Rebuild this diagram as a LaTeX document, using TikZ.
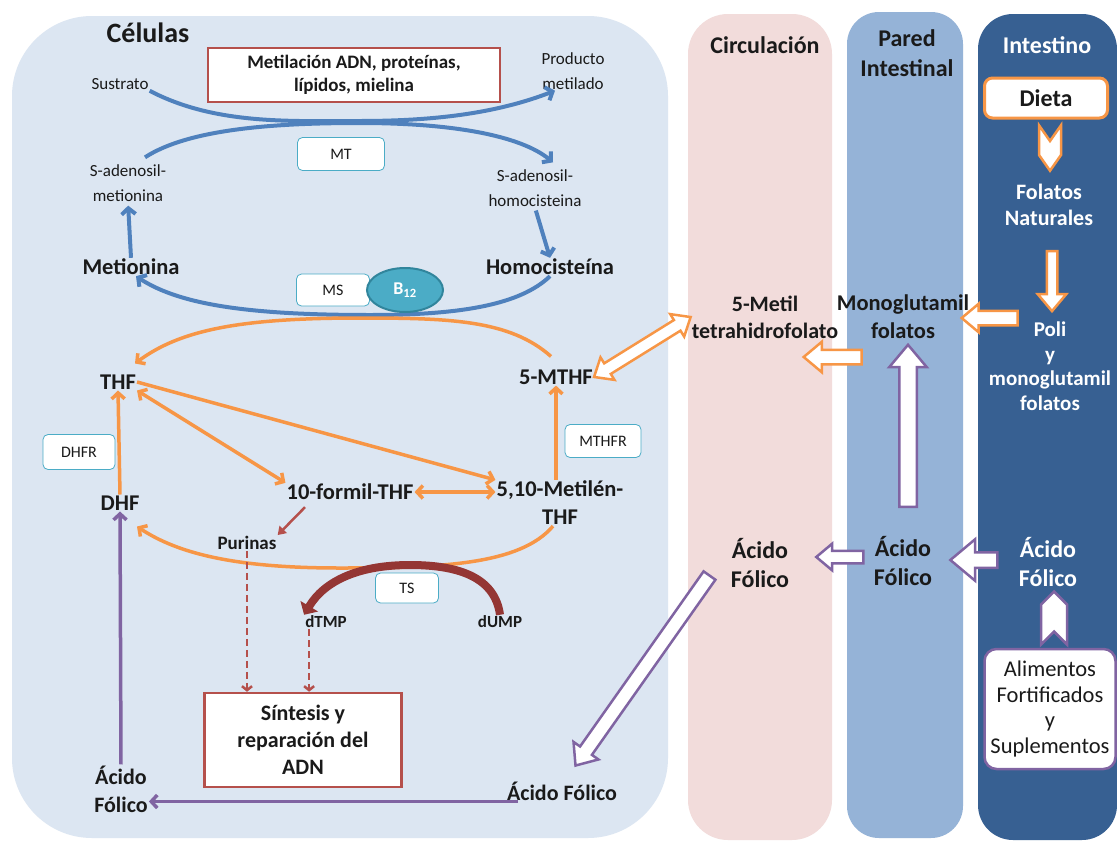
\documentclass[tikz,border=0pt]{standalone}
\usepackage{fontspec}
\setmainfont{Carlito}
\usetikzlibrary{arrows.meta,shapes.arrows,shapes.symbols,shapes.geometric,calc}

\definecolor{cellbg}{HTML}{DCE6F2}
\definecolor{circbg}{HTML}{F2DCDB}
\definecolor{paredbg}{HTML}{95B3D7}
\definecolor{intbg}{HTML}{376092}
\definecolor{metblue}{HTML}{4F81BD}
\definecolor{folorange}{HTML}{F79646}
\definecolor{acpurple}{HTML}{8064A2}
\definecolor{boxred}{HTML}{B5504C}
\definecolor{tsred}{HTML}{943634}
\definecolor{enzteal}{HTML}{4BACC6}
\definecolor{b12dark}{HTML}{31859C}
\definecolor{ink}{HTML}{1A1A1A}

\newcommand{\fatarrow}[3][]{%
  \path let \p1=($(#3)-(#2)$), \n1={veclen(\x1,\y1)} in
    (#2) -- node[fat, #1, minimum height=\n1] {} (#3);}

\begin{document}
\begin{tikzpicture}[x=1pt, y=-1pt,
    lbl/.style={text=ink, align=center, inner sep=1pt, font=\fontsize{17}{25}\selectfont},
    metab/.style={text=ink, align=center, inner sep=1pt, font=\bfseries\fontsize{22.5}{28}\selectfont},
    enz/.style={draw=enzteal, fill=white, rounded corners=5pt, line width=0.8pt, inner sep=0pt, text=ink, font=\fontsize{16}{18}\selectfont},
    resbox/.style={draw=boxred, fill=white, line width=2.5pt, align=center, inner sep=0pt, text=ink},
    zone/.style={text=ink, align=center, font=\bfseries\fontsize{24}{30}\selectfont},
    gut/.style={text=white, align=center, inner sep=1pt, font=\bfseries\fontsize{21}{24.5}\selectfont},
    small/.style={metab, font=\bfseries\fontsize{17}{20}\selectfont},
    acido/.style={metab, font=\bfseries\fontsize{24}{29}\selectfont},
    chevron/.style={signal, fill=white, line width=2.5pt, inner sep=0pt},
    blu/.style={draw=metblue, line width=4pt, -{Straight Barb[length=6pt,width=14pt]}},
    ora/.style={draw=folorange, line width=3.5pt, -{Straight Barb[length=6pt,width=13pt]}},
    oraboth/.style={ora, {Straight Barb[length=6pt,width=13pt]}-{Straight Barb[length=6pt,width=13pt]}},
    pur/.style={draw=acpurple, line width=3.5pt, -{Straight Barb[length=6pt,width=13pt]}},
    redash/.style={draw=boxred, line width=2.5pt, dash pattern=on 7pt off 4pt, -{Straight Barb[length=4pt,width=10pt]}},
    fat/.style={single arrow, fill=white, line width=2.5pt, inner sep=6pt, single arrow head extend=7pt, single arrow tip angle=80, sloped, allow upside down},
    fatboth/.style={double arrow, fill=white, draw=folorange, line width=2.5pt, inner sep=5pt, double arrow head extend=7pt, double arrow tip angle=80, sloped, allow upside down}]

\useasboundingbox (0,0) rectangle (1117,841);
\fill[white] (0,0) rectangle (1117,841);

\fill[cellbg, rounded corners=80pt] (12,16) rectangle (668,838);
\fill[circbg, rounded corners=40pt] (688,14) rectangle (832,840);
\fill[paredbg, rounded corners=32pt] (847,12) rectangle (963,838);
\fill[intbg, rounded corners=35pt] (978,14) rectangle (1117,840);

\node[zone, font=\bfseries\fontsize{28}{32}\selectfont] (cel) at (148,33) {Células};
\node[resbox, minimum width=292pt, minimum height=54pt, font=\bfseries\fontsize{19}{23}\selectfont] (metil) at (354,75) {Metilación ADN, proteínas,\\lípidos, mielina};
\node[lbl] (sus) at (120,84) {Sustrato};
\node[lbl] (prod) at (573,71) {Producto\\metilado};
\node[lbl] (sam) at (128,183) {S-adenosil-\\metionina};
\node[lbl] (sah) at (535,188) {S-adenosil-\\homocisteina};
\node[metab] (met) at (131,267) {Metionina};
\node[metab] (hom) at (550,267) {Homocisteína};

\draw[blu] (sus.south east) .. controls (215,125) and (290,121) .. (360,121) .. controls (440,121) and (500,112) .. ([xshift=-18pt]prod.south);
\draw[blu] ([xshift=17pt,yshift=6pt]sam.north) .. controls (190,128) and (280,123) .. (360,123) .. controls (450,123) and (520,135) .. ([xshift=18pt,yshift=6pt]sah.north);
\draw[blu, shorten >=3pt] (met.north) -- (sam.south);
\draw[blu, shorten <=3pt] (sah.south) -- (hom.north);
\draw[blu] (hom.south) .. controls (520,305) and (460,315) .. (370,315) .. controls (250,315) and (180,305) .. ([xshift=5pt]met.south);

\node[enz, minimum width=87pt, minimum height=33pt] (mt) at (341,154) {MT};
\node[enz, minimum width=73pt, minimum height=32pt] (ms) at (333,290) {MS};
\node[ellipse, draw=b12dark, fill=enzteal, line width=2pt, minimum width=76pt, minimum height=44pt, text=white, font=\bfseries\fontsize{18}{20}\selectfont] (b12) at (405,290) {B\textsubscript{12}};

\node[metab] (thf) at (118,382) {THF};
\node[metab] (mthf) at (556,377) {5-MTHF};
\node[metab] (dhf) at (120,503) {DHF};
\node[metab] (formil) at (350,492) {10-formil-THF};
\node[metab] (meth) at (560,503) {5,10-Metilén-\\THF};
\node[small, font=\bfseries\fontsize{19}{22}\selectfont] (pur) at (247,543) {Purinas};
\node[small] (dtmp) at (326,622) {dTMP};
\node[small] (dump) at (500,622) {dUMP};

\draw[ora] ([xshift=-5pt,yshift=12pt]mthf.north) .. controls (510,320) and (450,318) .. (360,318) .. controls (240,318) and (180,330) .. ([xshift=17pt,yshift=10pt]thf.north);
\draw[ora] (thf.east) -- (meth.north west);
\draw[oraboth] (thf.south east) -- (formil.north west);
\draw[oraboth] (formil.east) -- (formil.east -| meth.west);
\draw[ora] (mthf.south |- meth.north) -- (mthf.south);
\draw[ora] (dhf.north) -- (thf.south);
\draw[ora] ([xshift=-7pt]meth.south) .. controls (520,565) and (440,568) .. (340,568) .. controls (240,568) and (180,555) .. ([xshift=17pt,yshift=-15pt]dhf.south);

\node[enz, minimum width=72pt, minimum height=35pt] (dhfr) at (79,452) {DHFR};
\node[enz, minimum width=76pt, minimum height=33pt] (mthfr) at (603,441) {MTHFR};

\draw[draw=boxred, line width=2.5pt, -{Triangle[length=8pt,width=10pt]}] ([xshift=-45pt,yshift=-6pt]formil.south) -- (pur.north east);
\draw[draw=tsred, line width=8pt, -{Triangle[length=10pt,width=20pt]}] (dump.north) .. controls (495,578) and (460,565) .. (410,565) .. controls (360,565) and (325,580) .. (dtmp.north west);
\node[enz, minimum width=63pt, minimum height=30pt] (ts) at (407,588) {TS};

\node[resbox, minimum width=197pt, minimum height=94pt, font=\bfseries\fontsize{22}{27}\selectfont] (syn) at (303,740) {Síntesis y\\reparación del\\ADN};
\draw[redash] (pur.south) -- (pur.south |- syn.north);
\draw[redash] ($(dtmp.south west)+(5,0)$) -- ($(dtmp.south west |- syn.north)+(5,0)$);

\node[metab, font=\bfseries\fontsize{22}{28}\selectfont] (acl) at (121,789) {Ácido\\Fólico};
\node[metab, font=\bfseries\fontsize{22}{28}\selectfont] (acr) at (562,791) {Ácido Fólico};
\draw[pur] (acl.north) -- (dhf.south);
\draw[pur] ([xshift=12pt]acr.south west) -- (acr.south west -| acl.east);

\node[zone] (circ) at (765,45) {Circulación};
\node[zone] (pared) at (907,53) {Pared\\Intestinal};
\node[zone, text=white] (intest) at (1047,45) {Intestino};
\node[draw=folorange, fill=white, line width=3pt, rounded corners=8pt, minimum width=123pt, minimum height=40pt, text=ink, font=\bfseries\fontsize{24}{26}\selectfont] (dieta) at (1046,98) {Dieta};
\node[chevron, draw=folorange, signal to=south, signal from=north, signal pointer angle=70, minimum width=22pt, minimum height=14pt] (chevd) at (1050,148) {};
\node[gut, font=\bfseries\fontsize{22}{26}\selectfont] (folnat) at (1049,205) {Folatos\\Naturales};
\node[gut] (poli) at (1050,366) {Poli\\y\\monoglutamil\\folatos};
\node[metab] (mono) at (903,317) {Monoglutamil\\folatos};
\node[metab, font=\bfseries\fontsize{22}{27}\selectfont] (tetra) at (765,317) {5-Metil\\tetrahidrofolato};
\node[acido] (acc) at (760,563) {Ácido\\Fólico};
\node[acido] (acp) at (903,561) {Ácido\\Fólico};
\node[acido, text=white] (aci) at (1048,562) {Ácido\\Fólico};
\node[chevron, draw=acpurple, signal to=north, signal from=south, minimum width=26pt, minimum height=27pt] (chevu) at (1054,618) {};
\node[draw=acpurple, fill=white, line width=2.5pt, rounded corners=12pt, minimum width=131pt, minimum height=120pt, align=center, text=ink, font=\fontsize{22.5}{25.5}\selectfont] (alim) at (1050,709) {Alimentos\\Fortificados\\y\\Suplementos};

\coordinate (ov1) at (1052,248);
\coordinate (ov2) at (1052,308);
\coordinate (oh1) at (1022,318);
\coordinate (oh2) at (966,318);
\coordinate (oc1) at (866,357);
\coordinate (oc2) at (808,357);
\coordinate (pv1) at (908,512);
\coordinate (pv2) at (908,350);
\coordinate (pl1) at (1002,560);
\coordinate (pl2) at (955,560);
\coordinate (pm1) at (867,557);
\coordinate (pm2) at (820,557);
\coordinate (dg1) at (712,572);
\coordinate (dg2) at (578,762);

\fatarrow[draw=folorange, inner sep=4pt, single arrow head extend=9pt]{ov1}{ov2}
\fatarrow[draw=folorange]{oh1}{oh2}
\fatarrow[draw=folorange, single arrow head extend=8pt]{oc1}{oc2}
\fatarrow[draw=acpurple, inner sep=7.5pt, single arrow head extend=10pt]{pv1}{pv2}
\fatarrow[draw=acpurple, inner sep=6.5pt, single arrow head extend=13pt]{pl1}{pl2}
\fatarrow[draw=acpurple, inner sep=5pt, single arrow head extend=7pt]{pm1}{pm2}
\fatarrow[draw=acpurple, single arrow head extend=8pt]{dg1}{dg2}
\path let \p1=($(tetra.west)-(mthf.east)$), \n1={veclen(\x1,\y1)} in
  (mthf.east) -- node[fatboth, minimum height=\n1] {} (tetra.west);
\end{tikzpicture}
\end{document}
